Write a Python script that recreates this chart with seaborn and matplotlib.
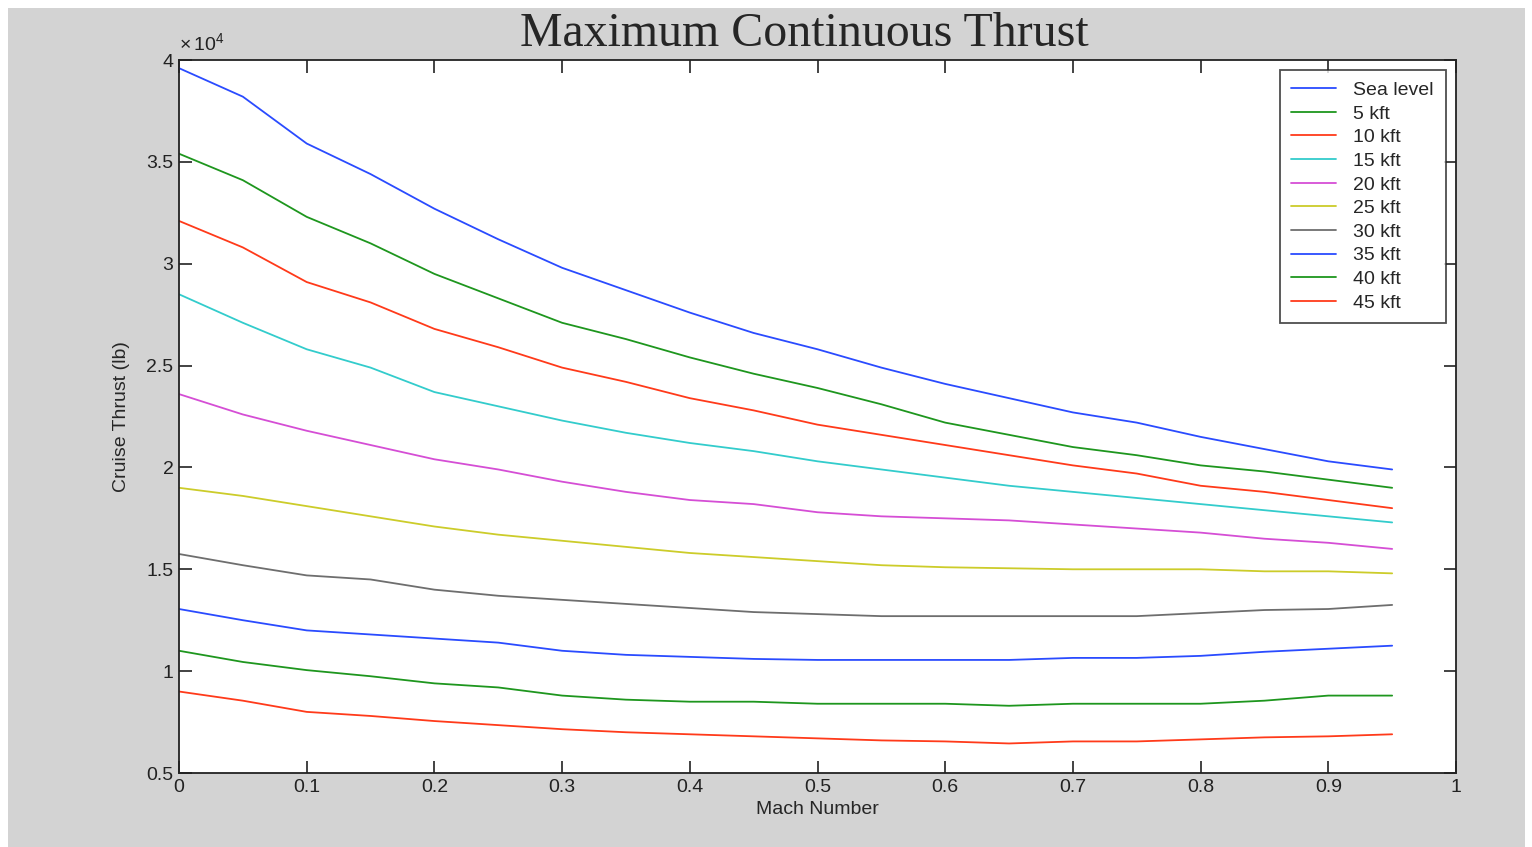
import numpy as np
import pandas as pd
import seaborn as sns
import matplotlib
matplotlib.use('Agg')
import matplotlib.pyplot as plt
from matplotlib.patches import Rectangle

# Mach number grid
mach = [0.00, 0.05, 0.10, 0.15, 0.20, 0.25, 0.30, 0.35, 0.40, 0.45,
        0.50, 0.55, 0.60, 0.65, 0.70, 0.75, 0.80, 0.85, 0.90, 0.95]

# cruise thrust, units of 1e4 lb
sea_level = [3.96, 3.82, 3.59, 3.44, 3.27, 3.12, 2.98, 2.87, 2.76, 2.66,
             2.58, 2.49, 2.41, 2.34, 2.27, 2.22, 2.15, 2.09, 2.03, 1.99]
kft_5 = [3.54, 3.41, 3.23, 3.10, 2.95, 2.83, 2.71, 2.63, 2.54, 2.46,
         2.39, 2.31, 2.22, 2.16, 2.10, 2.06, 2.01, 1.98, 1.94, 1.90]
kft_10 = [3.21, 3.08, 2.91, 2.81, 2.68, 2.59, 2.49, 2.42, 2.34, 2.28,
          2.21, 2.16, 2.11, 2.06, 2.01, 1.97, 1.91, 1.88, 1.84, 1.80]
kft_15 = [2.85, 2.71, 2.58, 2.49, 2.37, 2.30, 2.23, 2.17, 2.12, 2.08,
          2.03, 1.99, 1.95, 1.91, 1.88, 1.85, 1.82, 1.79, 1.76, 1.73]
kft_20 = [2.36, 2.26, 2.18, 2.11, 2.04, 1.99, 1.93, 1.88, 1.84, 1.82,
          1.78, 1.76, 1.75, 1.74, 1.72, 1.70, 1.68, 1.65, 1.63, 1.60]
kft_25 = [1.90, 1.86, 1.81, 1.76, 1.71, 1.67, 1.64, 1.61, 1.58, 1.56,
          1.54, 1.52, 1.51, 1.505, 1.50, 1.50, 1.50, 1.49, 1.49, 1.48]
kft_30 = [1.575, 1.52, 1.47, 1.45, 1.40, 1.37, 1.35, 1.33, 1.31, 1.29,
          1.28, 1.27, 1.27, 1.27, 1.27, 1.27, 1.285, 1.30, 1.305, 1.325]
kft_35 = [1.305, 1.25, 1.20, 1.18, 1.16, 1.14, 1.10, 1.08, 1.07, 1.06,
          1.055, 1.055, 1.055, 1.055, 1.065, 1.065, 1.075, 1.095, 1.11, 1.125]
kft_40 = [1.10, 1.045, 1.005, 0.975, 0.94, 0.92, 0.88, 0.86, 0.85, 0.85,
          0.84, 0.84, 0.84, 0.83, 0.84, 0.84, 0.84, 0.855, 0.88, 0.88]
kft_45 = [0.90, 0.855, 0.80, 0.78, 0.755, 0.735, 0.715, 0.70, 0.69, 0.68,
          0.67, 0.66, 0.655, 0.645, 0.655, 0.655, 0.665, 0.675, 0.68, 0.69]

labels = ['Sea level', '5 kft', '10 kft', '15 kft', '20 kft',
          '25 kft', '30 kft', '35 kft', '40 kft', '45 kft']
series = [sea_level, kft_5, kft_10, kft_15, kft_20,
          kft_25, kft_30, kft_35, kft_40, kft_45]

colors = ['#2a4bff', '#1e961e', '#ff3a1a', '#33cccc', '#d54ed5',
          '#cccc2a', '#6e6e6e', '#2a4bff', '#1e961e', '#ff3a1a']

df = pd.concat([pd.DataFrame({'mach': mach, 'thrust': s, 'alt': lab})
                for lab, s in zip(labels, series)], ignore_index=True)

sns.set_style('ticks')
plt.rcParams['font.family'] = ['Liberation Sans', 'DejaVu Sans']
plt.rcParams['mathtext.default'] = 'regular'

fig = plt.figure(figsize=(15.32, 8.47), dpi=100, facecolor='white')
fig.patches.append(Rectangle((8 / 1532, 0), 1517 / 1532, 1 - 8 / 847,
                             transform=fig.transFigure, facecolor='#d3d3d3',
                             edgecolor='none', zorder=-10))
ax = fig.add_axes([179 / 1532, 1 - 773 / 847, (1456 - 179) / 1532, (773 - 60) / 847])
ax.set_facecolor('white')

sns.lineplot(data=df, x='mach', y='thrust', hue='alt', hue_order=labels,
             palette=colors, linewidth=1.3, ax=ax, legend=False)

ax.set_xlim(0, 1)
ax.set_ylim(0.5, 4)
ax.set_xticks(np.arange(0, 1.01, 0.1))
ax.set_xticklabels(['0', '0.1', '0.2', '0.3', '0.4', '0.5', '0.6', '0.7', '0.8', '0.9', '1'])
ax.set_yticks(np.arange(0.5, 4.01, 0.5))
ax.set_yticklabels(['0.5', '1', '1.5', '2', '2.5', '3', '3.5', '4'])
ax.tick_params(direction='in', length=9, width=1.2, top=True, right=True,
               labelsize=14, colors='#222222', pad=4)
for sp in ax.spines.values():
    sp.set_visible(True)
    sp.set_linewidth(1.3)
    sp.set_color('#222222')

ax.set_xlabel('Mach Number', fontsize=14, labelpad=4)
ax.set_ylabel('Cruise Thrust (lb)', fontsize=14, labelpad=12)
ax.set_title('Maximum Continuous Thrust', family='Liberation Serif',
             fontsize=34.5, pad=10, x=0.49)
ax.text(0, 1.008, r'$\times\,10^{4}$', transform=ax.transAxes, fontsize=14,
        ha='left', va='bottom', color='#222222')

handles = [plt.Line2D([], [], color=c, lw=1.3) for c in colors]
leg = ax.legend(handles, labels, loc='upper right', fontsize=14, frameon=True,
                fancybox=False, edgecolor='#222222', handlelength=2.3,
                handletextpad=0.9, labelspacing=0.31, borderaxespad=0.5,
                borderpad=0.6, bbox_to_anchor=(0.9995, 1.0))
leg.get_frame().set_linewidth(1.3)

fig.savefig('out.png', dpi=100, facecolor=fig.get_facecolor())
